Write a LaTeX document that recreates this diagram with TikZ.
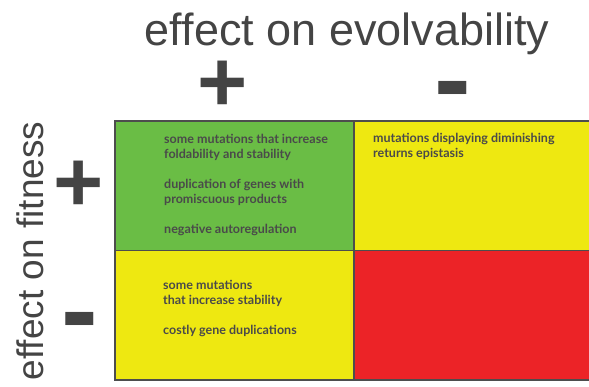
\documentclass[tikz,border=0pt]{standalone}
\usepackage{fontspec}
\setmainfont{Liberation Sans}
\newfontfamily\cellfont{Lato}
\usetikzlibrary{positioning}
\definecolor{ink}{HTML}{444444}
\definecolor{notegray}{HTML}{4A4A4A}
\definecolor{frame}{HTML}{4D4D4D}
\definecolor{fitgreen}{HTML}{6ABD45}
\definecolor{midyellow}{HTML}{EEE811}
\definecolor{badred}{HTML}{EC2327}
\tikzset{
  cell/.style={draw=frame,line width=1.5pt,outer sep=0pt,inner sep=0pt,
               minimum width=239pt,minimum height=129.5pt,anchor=north west},
  note/.style={align=left,inner sep=0pt,text=notegray,
               font=\cellfont\bfseries\fontsize{12.5}{15}\selectfont},
  axis/.style={text=ink,inner sep=0pt,font=\fontsize{45}{50}\selectfont},
  sidelbl/.style={axis,font=\fontsize{37}{40}\selectfont,rotate=90},
  plussign/.style={text=ink,inner sep=0pt,anchor=base,font=\bfseries\fontsize{86}{86}\selectfont},
  minussign/.style={text=ink,inner sep=0pt,anchor=base,font=\bfseries\fontsize{110}{110}\selectfont},
}

\begin{document}
\begin{tikzpicture}[x=1pt,y=-1pt]
\useasboundingbox (0,0) rectangle (589,386);
% quadrants
\node[cell,fill=fitgreen] (pp) at (115,121) {};
\node[cell,fill=midyellow,right=0pt of pp] (pm) {};
\node[cell,fill=midyellow,below=0pt of pp] (mp) {};
\node[cell,fill=badred,right=0pt of mp] (mm) {};
% axis labels
\node[axis,anchor=base] (evo) at (347,45) {effect on evolvability};
\node[plussign] (evoplus) at (223,111) {+};
\node[minussign] (evominus) at (453,116) {-};
\node[sidelbl,anchor=base] (fit) at (43,251) {effect on fitness};
\node[plussign] (fitplus) at (79,211) {+};
\node[minussign] (fitminus) at (80,347) {-};
% cell notes
\node[note,below right=13pt and 49pt of pp.north west] (ppnote)
  {some mutations that increase\\foldability and stability\\[15pt]
   duplication of genes with\\promiscuous products\\[15pt]
   negative autoregulation};
\node[note,below right=12pt and 19pt of pm.north west] (pmnote)
  {mutations displaying diminishing\\returns epistasis};
\node[note,below right=29.5pt and 48pt of mp.north west] (mpnote)
  {some mutations\\that increase stability\\[15pt]
   costly gene duplications};
\end{tikzpicture}
\end{document}
